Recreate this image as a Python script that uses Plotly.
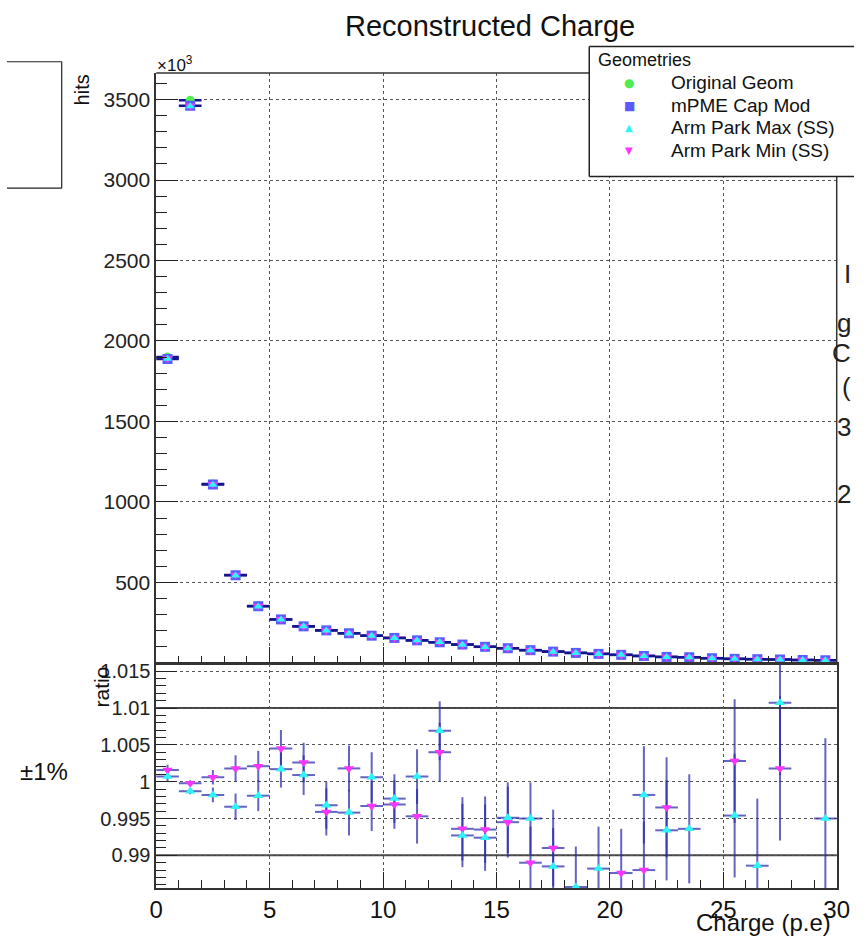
import plotly.graph_objects as go

W, H = 867, 938

# ---------------- data ----------------
bin_centers = [i + 0.5 for i in range(30)]
bin_half = [0.5] * 30

hits_original = [1900, 3495, 1112, 546, 353, 270, 227, 202, 184, 169, 155, 140, 128, 114, 100,
                 91, 79, 70, 62, 56, 50, 43, 37, 35, 29, 25, 23, 21, 18, 17]
hits_mpme = [1888, 3462, 1109, 545, 352, 270, 227, 202, 184, 169, 155, 140, 128, 114, 100,
             91, 79, 70, 62, 56, 50, 43, 37, 35, 29, 25, 23, 21, 18, 17]
hits_max = [1889, 3459, 1107, 543, 351, 270, 227, 201, 183, 169, 155, 140, 129, 113, 99,
            91, 79, 69, 61, 55, 50, 43, 37, 35, 29, 25, 23, 21, 18, 17]
hits_min = [1891, 3461, 1110, 546, 353, 271, 228, 201, 184, 168, 155, 139, 129, 113, 99,
            91, 78, 69, 61, 55, 49, 42, 37, 35, 29, 25, 23, 21, 18, 17]

ratio_max = [1.0007, 0.9987, 0.9982, 0.9966, 0.9981, 1.0017, 1.0009, 0.9968, 0.9958, 1.0006,
             0.9977, 1.0007, 1.0069, 0.9927, 0.9924, 0.9951, 0.9950, 0.9885, 0.9857, 0.9882,
             None, 0.9982, 0.9934, 0.9936, None, 0.9954, 0.9886, 1.0107, None, 0.9950]
ratio_max_err = [0.0007, 0.0004, 0.0010, 0.0018, 0.0021, 0.0025, 0.0027, 0.0032, 0.0031, 0.0034,
                 0.0033, 0.0037, 0.0040, 0.0043, 0.0045, 0.0048, 0.0049, 0.0052, 0.0055, 0.0057,
                 0.0060, 0.0066, 0.0068, 0.0074, 0.0078, 0.0084, 0.0091, 0.0098, 0.0103, 0.0109]
ratio_min = [1.0016, 0.9998, 1.0006, 1.0018, 1.0021, 1.0045, 1.0026, 0.9959, 1.0018, 0.9967,
             0.9969, 0.9953, 1.0040, 0.9936, 0.9935, 0.9945, 0.9890, 0.9910, None, None,
             0.9876, 0.9880, 0.9965, None, None, 1.0028, None, 1.0018, None, None]
ratio_min_err = [0.0007, 0.0004, 0.0010, 0.0018, 0.0021, 0.0025, 0.0027, 0.0032, 0.0031, 0.0034,
                 0.0033, 0.0037, 0.0040, 0.0043, 0.0045, 0.0048, 0.0049, 0.0052, 0.0055, 0.0057,
                 0.0060, 0.0066, 0.0068, 0.0074, 0.0078, 0.0084, 0.0091, 0.0098, 0.0103, 0.0109]

x_ticks = [0, 5, 10, 15, 20, 25, 30]
hits_ticks = [500, 1000, 1500, 2000, 2500, 3000, 3500]
hits_minor = list(range(100, 3700, 100))
ratio_ticks = [0.99, 0.995, 1.0, 1.005, 1.01, 1.015]
ratio_tick_text = ["0.99", "0.995", "1", "1.005", "1.01", "1.015"]
ratio_minor = [0.986 + 0.001 * i for i in range(30)]
band = [0.99, 1.01]

series_names = ["Original Geom", "mPME Cap Mod", "Arm Park Max (SS)", "Arm Park Min (SS)"]
side_fragments = ["I", "g", "C", "(", "3", "2"]
side_fragment_rows = [271, 320, 350, 385, 425, 492]

# ---------------- style ----------------
FONT = "Liberation Sans, Arial, sans-serif"
GREEN = "#4fee4f"
BLUE = "#5a5aff"
CYAN = "#2ef5f5"
MAGENTA = "#ff33ff"
NAVY = "#14148c"
RBAR = "rgba(40,40,170,0.72)"
FRAME = "#333"


def px(x):
    return x / W


def py(y):
    return 1 - y / H


XD = [px(152.7), px(849.3)]
TOP_D = [py(661.7), py(69.3)]
RAT_D = [py(887.7), py(662.7)]

fig = go.Figure()

# top panel: bin-width bars first (under the markers)
for vals in (hits_original, hits_mpme):
    fig.add_trace(go.Scatter(
        x=bin_centers, y=vals, mode="markers", xaxis="x", yaxis="y",
        marker=dict(size=2, color="rgba(0,0,0,0)"), showlegend=False, hoverinfo="skip",
        error_x=dict(type="data", array=bin_half, color=NAVY, thickness=2.5, width=0)))

top_specs = [
    (hits_original, GREEN, "circle", 9, series_names[0]),
    (hits_mpme, BLUE, "square", 10, series_names[1]),
    (hits_min, MAGENTA, "triangle-down", 9, series_names[3]),
    (hits_max, CYAN, "triangle-up", 8, series_names[2]),
]
for vals, col, sym, sz, name in top_specs:
    fig.add_trace(go.Scatter(
        x=bin_centers, y=vals, mode="markers", name=name, xaxis="x", yaxis="y",
        marker=dict(symbol=sym, size=sz, color=col, line=dict(width=0)), showlegend=False))

# ratio panel: error bars first
for vals, errs in ((ratio_max, ratio_max_err), (ratio_min, ratio_min_err)):
    fig.add_trace(go.Scatter(
        x=bin_centers, y=vals, mode="markers", xaxis="x2", yaxis="y2",
        marker=dict(size=2, color="rgba(0,0,0,0)"), showlegend=False, hoverinfo="skip",
        error_x=dict(type="data", array=bin_half, color=RBAR, thickness=2, width=0),
        error_y=dict(type="data", array=errs, color=RBAR, thickness=2, width=0)))

fig.add_trace(go.Scatter(
    x=bin_centers, y=ratio_min, mode="markers", name=series_names[3], xaxis="x2", yaxis="y2",
    marker=dict(symbol="triangle-down", size=9, color=MAGENTA), showlegend=False))
fig.add_trace(go.Scatter(
    x=bin_centers, y=ratio_max, mode="markers", name=series_names[2], xaxis="x2", yaxis="y2",
    marker=dict(symbol="triangle-up", size=9, color=CYAN), showlegend=False))

axis_common = dict(showline=True, linecolor=FRAME, linewidth=1.5,
                   zeroline=False, showgrid=True, gridcolor="#555", griddash="dot", gridwidth=1,
                   ticks="inside", tickcolor="#222", tickwidth=1)

fig.update_layout(
    height=H, autosize=True,
    margin=dict(l=0, r=0, t=0, b=0),
    paper_bgcolor="white", plot_bgcolor="white",
    showlegend=False,
    font=dict(family=FONT, color="#111"),
    xaxis=dict(domain=XD, anchor="y", range=[0, 30], tickvals=x_ticks, showticklabels=False,
               mirror=False, ticklen=16,
               minor=dict(dtick=1, ticklen=7, ticks="inside", tickcolor="#222", showgrid=False),
               **axis_common),
    yaxis=dict(domain=TOP_D, anchor="x", range=[0, 3665], tickvals=hits_ticks,
               mirror=False, ticklen=22, tickfont=dict(size=21, color="#222"),
               minor=dict(tickmode="array", tickvals=hits_minor, ticklen=11, ticks="inside",
                          tickcolor="#222", showgrid=False),
               **axis_common),
    xaxis2=dict(domain=XD, anchor="y2", range=[0, 30], tickvals=x_ticks, mirror=True,
                ticklen=16, tickfont=dict(size=24, color="#111"),
                minor=dict(dtick=1, ticklen=8, ticks="inside", tickcolor="#222", showgrid=False),
                **axis_common),
    yaxis2=dict(domain=RAT_D, anchor="x2", range=[0.98558, 1.01599], tickvals=ratio_ticks,
                ticktext=ratio_tick_text, mirror=True, ticklen=21, tickfont=dict(size=20, color="#222"),
                minor=dict(tickmode="array", tickvals=ratio_minor, ticklen=10, ticks="inside",
                           tickcolor="#222", showgrid=False),
                **axis_common),
)

shapes = []
for b in band:
    shapes.append(dict(type="line", xref="x2 domain", x0=0, x1=1, yref="y2", y0=b, y1=b,
                       line=dict(color="#444", width=2), layer="below"))
# top-panel frame (top and right edges), drawn before the legend so the legend covers it
shapes.append(dict(type="line", xref="x domain", yref="y domain", x0=0, x1=1, y0=1, y1=1,
                   line=dict(color=FRAME, width=1.5), layer="above"))
shapes.append(dict(type="line", xref="x domain", yref="y domain", x0=1, x1=1, y0=0, y1=1,
                   line=dict(color=FRAME, width=1.5), layer="above"))
# legend frame (right side runs off the canvas)
LX0, LX1, LY0, LY1 = 596, 867, 42.7, 173.3
shapes.append(dict(type="rect", xref="paper", yref="paper", x0=px(LX0), x1=px(LX1),
                   y0=py(LY1), y1=py(LY0), line=dict(width=0),
                   fillcolor="white", layer="above"))
for (xa, ya, xb, yb) in [(LX0, LY0, LX1, LY0), (LX0, LY1, LX1, LY1), (LX0, LY0, LX0, LY1)]:
    shapes.append(dict(type="line", xref="paper", yref="paper", x0=px(xa), x1=px(xb),
                       y0=py(ya), y1=py(yb), line=dict(color="#222", width=1.5), layer="above"))
# left box (left side runs off the canvas)
for (xa, ya, xb, yb) in [(0, 58, 56, 58), (0, 185, 56, 185), (56, 58, 56, 185)]:
    shapes.append(dict(type="line", xref="paper", yref="paper", x0=px(xa), x1=px(xb),
                       y0=py(ya), y1=py(yb), line=dict(color="#222", width=1.2), layer="above"))
fig.update_layout(shapes=shapes)

ann = []


def text(x, y, s, size, xanchor="center", yanchor="middle", angle=0, color="#111"):
    ann.append(dict(x=px(x), y=py(y), xref="paper", yref="paper", text=s, showarrow=False,
                    xanchor=xanchor, yanchor=yanchor, textangle=angle,
                    font=dict(family=FONT, size=size, color=color)))


text(494, 22, "Reconstructed Charge", 29)
text(152, 60, "×10<sup>3</sup>", 17, xanchor="left")
text(77, 69, "hits", 20, yanchor="top", angle=-90)
text(97, 663, "ratio", 21, yanchor="top", angle=-90)
text(846, 922, "Charge (p.e)", 24, xanchor="right")
text(38, 771, "±1%", 24)

# legend content
text(603, 56, "Geometries", 18, xanchor="left")
leg_rows = [79, 102, 124, 147]
leg_glyphs = [("●", GREEN, 12), ("■", BLUE, 12), ("▲", CYAN, 10), ("▼", MAGENTA, 10)]
for yrow, (g, col, gs), name in zip(leg_rows, leg_glyphs, series_names):
    ann.append(dict(x=px(637), y=py(yrow), xref="paper", yref="paper", text=g, showarrow=False,
                    xanchor="center", yanchor="middle",
                    font=dict(family="DejaVu Sans", size=gs, color=col)))
    text(678, yrow, name, 19, xanchor="left")

# text fragments at the right edge
for yy, s in zip(side_fragment_rows, side_fragments):
    ann.append(dict(x=1, y=py(yy), xref="paper", yref="paper", text=s, showarrow=False,
                    xanchor="right", yanchor="middle", xshift=-1,
                    font=dict(family=FONT, size=26, color="#222")))

fig.update_layout(annotations=ann)

fig.write_html(
    "out.html",
    config={"displayModeBar": False, "responsive": True},
    default_width="100%",
    default_height="938px",
    post_script=(
        "document.documentElement.style.margin='0';"
        "document.body.style.margin='0';document.body.style.overflow='hidden';"
        "document.documentElement.style.overflow='hidden';"
        "Plotly.Plots.resize(document.getElementById('{plot_id}'));"
    ),
)
